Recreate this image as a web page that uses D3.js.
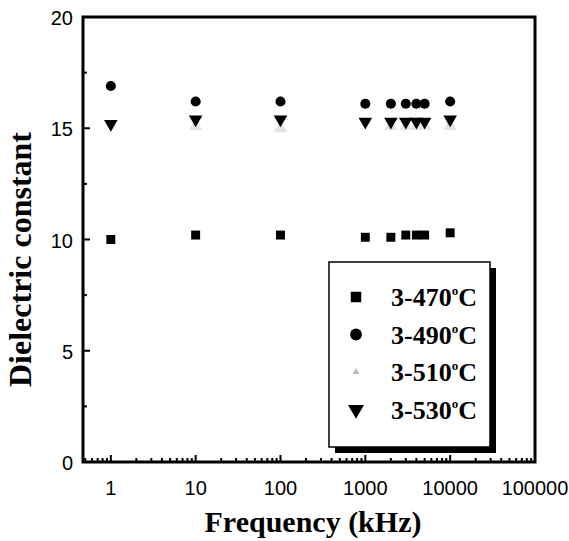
<!DOCTYPE html>
<html>
<head>
<meta charset="utf-8">
<script src="https://cdn.jsdelivr.net/npm/d3@7"></script>
<style>
  body { margin: 0; background: #fff; }
  svg { display: block; }
</style>
</head>
<body>
<div id="chart"></div>
<script>
var freqs = [1, 10, 100, 1000, 2000, 3000, 4000, 5000, 10000];
var s470 = [10.0, 10.2, 10.2, 10.1, 10.1, 10.2, 10.2, 10.2, 10.3];
var s490 = [16.9, 16.2, 16.2, 16.1, 16.1, 16.1, 16.1, 16.1, 16.2];
var s510 = [null, 15.1, 15.0, null, 15.1, 15.1, 15.1, 15.1, 15.1];
var s530 = [15.2, 15.4, 15.4, 15.3, 15.3, 15.3, 15.3, 15.3, 15.4];

var series_names = ["3-470", "3-490", "3-510", "3-530"];
var series_vals = [s470, s490, s510, s530];
var series_shape = ["square", "circle", "triangleUp", "triangleDown"];
var series_color = ["#000", "#000", "#e4e4e4", "#000"];

var yTicks = [0, 5, 10, 15, 20];
var xTicks = [1, 10, 100, 1000, 10000, 100000];

var width = 569, height = 541;
var margin = {left: 83, top: 17, right: 34, bottom: 79};

var svg = d3.select('#chart').append('svg')
    .attr('width', width).attr('height', height);

var x = d3.scaleLog().domain([0.47, 100000]).range([margin.left, width - margin.right]);
var y = d3.scaleLinear().domain([0, 20]).range([height - margin.bottom, margin.top]);

// minor ticks on bottom
var minor = [];
for (var e = -1; e < 5; e++) {
    for (var k = 1; k < 10; k++) {
        var v = k * Math.pow(10, e);
        if (v >= 0.5 && v <= 100000) minor.push(v);
    }
}
svg.append('g').selectAll('line')
    .data(minor).enter().append('line')
    .attr('x1', d => x(d)).attr('x2', d => x(d))
    .attr('y1', y(0)).attr('y2', d => y(0) - (xTicks.indexOf(d) >= 0 ? 7 : 4))
    .attr('stroke', '#000').attr('stroke-width', 2);

var yMinor = d3.range(0, 20.01, 2.5);
svg.append('g').selectAll('line')
    .data(yMinor).enter().append('line')
    .attr('x1', x.range()[0]).attr('x2', d => x.range()[0] + (d % 5 == 0 ? 7 : 4))
    .attr('y1', d => y(d)).attr('y2', d => y(d))
    .attr('stroke', '#000').attr('stroke-width', 2);

// frame
svg.append('rect')
    .attr('x', x.range()[0]).attr('y', y(20))
    .attr('width', x.range()[1] - x.range()[0])
    .attr('height', y(0) - y(20))
    .attr('fill', 'none').attr('stroke', '#000').attr('stroke-width', 3);

// tick labels
svg.append('g').selectAll('text')
    .data(xTicks).enter().append('text')
    .attr('x', d => x(d)).attr('y', y(0) + 33)
    .attr('text-anchor', 'middle')
    .style('font-family', 'Liberation Sans, Arial, sans-serif')
    .style('font-size', '20px')
    .text(d => d);

svg.append('g').selectAll('text')
    .data(yTicks).enter().append('text')
    .attr('x', x.range()[0] - 10).attr('y', d => y(d) + 8)
    .attr('text-anchor', 'end')
    .style('font-family', 'Liberation Sans, Arial, sans-serif')
    .style('font-size', '20px')
    .text(d => d);

// axis titles
svg.append('text')
    .attr('x', 313).attr('y', 532)
    .attr('text-anchor', 'middle')
    .style('font-family', 'Liberation Serif, Times New Roman, serif')
    .style('font-weight', 'bold').style('font-size', '30px')
    .text('Frequency (kHz)');

svg.append('text')
    .attr('transform', 'translate(31,' + ((y(0) + y(20)) / 2 + 20) + ') rotate(-90)')
    .attr('text-anchor', 'middle')
    .style('font-family', 'Liberation Serif, Times New Roman, serif')
    .style('font-weight', 'bold').style('font-size', '32px')
    .text('Dielectric constant');

function symPath(shape, size) {
    var t = {square: d3.symbolSquare, circle: d3.symbolCircle,
             triangleUp: d3.symbolTriangle, triangleDown: d3.symbolTriangle}[shape];
    return d3.symbol().type(t).size(size)();
}

// points
series_vals.forEach(function(vals, si) {
    var pts = freqs.map((f, i) => ({f: f, v: vals[i]})).filter(d => d.v != null);
    svg.append('g').selectAll('path')
        .data(pts).enter().append('path')
        .attr('d', symPath(series_shape[si], 80))
        .attr('transform', d => 'translate(' + x(d.f) + ',' + y(d.v) + ')' +
            (series_shape[si] == 'triangleDown' ? ' rotate(180)' : ''))
        .attr('fill', series_color[si]);
});

// legend
var lx = 329, ly = 262, lw = 161, lh = 185;
svg.append('rect').attr('x', lx + 6).attr('y', ly + 6)
    .attr('width', lw).attr('height', lh).attr('fill', '#000');
svg.append('rect').attr('x', lx).attr('y', ly)
    .attr('width', lw).attr('height', lh)
    .attr('fill', '#fff').attr('stroke', '#000').attr('stroke-width', 1.5);

series_names.forEach(function(name, i) {
    var ry = ly + 35 + i * 37.5;
    svg.append('path')
        .attr('d', symPath(series_shape[i], i == 2 ? 20 : 110))
        .attr('transform', 'translate(' + (lx + 27) + ',' + ry + ')' +
            (series_shape[i] == 'triangleDown' ? ' rotate(180)' : ''))
        .attr('fill', i == 2 ? '#bbb' : series_color[i]);
    var t = svg.append('text')
        .attr('x', lx + 62).attr('y', ry + 9)
        .style('font-family', 'Liberation Serif, Times New Roman, serif')
        .style('font-weight', 'bold').style('font-size', '26px');
    t.append('tspan').text(name);
    t.append('tspan').attr('dy', -11).style('font-size', '13px').text('o');
    t.append('tspan').attr('dy', 11).text('C');
});
</script>
</body>
</html>
